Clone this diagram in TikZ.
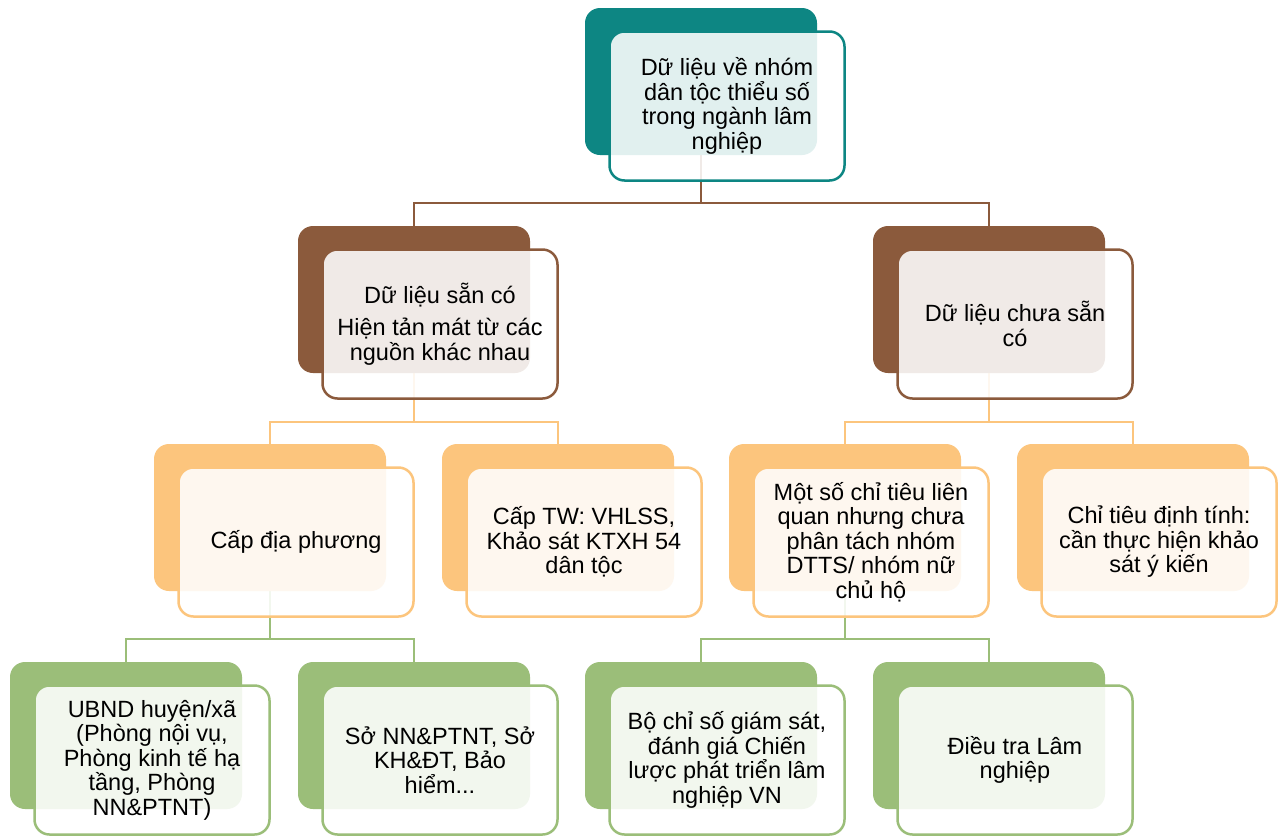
\documentclass[tikz,border=0pt]{standalone}
\usepackage{fontspec}
\setmainfont{Liberation Sans}
\definecolor{cteal}{RGB}{13,134,131}
\definecolor{cbrown}{RGB}{139,90,60}
\definecolor{corange}{RGB}{252,197,125}
\definecolor{cgreen}{RGB}{155,190,121}
\pgfdeclarelayer{bg}
\pgfsetlayers{bg,main}
\newcommand\twobox[5]{%
  \node[backbox=#4] (#1b) at (#2+116,#3+73.5) {};
  \node[frontbox=#4] (#1) at (#2+142,#3+98) {#5};
}
\begin{document}
\begin{tikzpicture}[x=1pt,y=-1pt,
  backbox/.style={rectangle, rounded corners=15pt, minimum width=232pt, minimum height=147pt, inner sep=0pt, fill=#1},
  frontbox/.style={rectangle, rounded corners=15pt, minimum width=235pt, minimum height=149pt, inner sep=0pt, draw=#1, line width=2.5pt, fill=white, fill opacity=0.88, text opacity=1, align=center, font=\fontsize{23.5}{24.5}\selectfont, text=black},
  conn/.style={draw=#1, line width=2.5pt}]
\useasboundingbox (0,0) rectangle (1280,836);
% boxes
\twobox{top}{585}{8}{cteal}{Dữ liệu về nhóm\\dân tộc thiểu số\\trong ngành lâm\\nghiệp}
\twobox{avail}{298}{226}{cbrown}{Dữ liệu sẵn có\\[8pt]Hiện tản mát từ các\\nguồn khác nhau}
\twobox{notavail}{873}{226}{cbrown}{Dữ liệu chưa sẵn\\có}
\twobox{local}{154}{444}{corange}{Cấp địa phương}
\twobox{central}{442}{444}{corange}{Cấp TW: VHLSS,\\Khảo sát KTXH 54\\dân tộc}
\twobox{indic}{729}{444}{corange}{Một số chỉ tiêu liên\\quan nhưng chưa\\phân tách nhóm\\DTTS/ nhóm nữ\\chủ hộ}
\twobox{qual}{1017}{444}{corange}{Chỉ tiêu định tính:\\cần thực hiện khảo\\sát ý kiến}
\twobox{ubnd}{10}{662}{cgreen}{UBND huyện/xã\\(Phòng nội vụ,\\Phòng kinh tế hạ\\tầng, Phòng\\NN\&PTNT)}
\twobox{so}{298}{662}{cgreen}{Sở NN\&PTNT, Sở\\KH\&ĐT, Bảo\\hiểm...}
\twobox{bochiso}{585}{662}{cgreen}{Bộ chỉ số giám sát,\\đánh giá Chiến\\lược phát triển lâm\\nghiệp VN}
\twobox{dieutra}{873}{662}{cgreen}{Điều tra Lâm\\nghiệp}
% connector levels
\coordinate (m1) at (0,203);
\coordinate (m2) at (0,422);
\coordinate (m3) at (0,639);
\begin{pgfonlayer}{bg}
\fill[white] (0,0) rectangle (1280,836);
\draw[conn=cbrown] (topb.south) -- (topb.south |- m1) -| (availb.north);
\draw[conn=cbrown] (topb.south) -- (topb.south |- m1) -| (notavailb.north);
\draw[conn=corange] (availb.south) -- (availb.south |- m2) -| (localb.north);
\draw[conn=corange] (availb.south) -- (availb.south |- m2) -| (centralb.north);
\draw[conn=corange] (notavailb.south) -- (notavailb.south |- m2) -| (indicb.north);
\draw[conn=corange] (notavailb.south) -- (notavailb.south |- m2) -| (qualb.north);
\draw[conn=cgreen] (localb.south) -- (localb.south |- m3) -| (ubndb.north);
\draw[conn=cgreen] (localb.south) -- (localb.south |- m3) -| (sob.north);
\draw[conn=cgreen] (indicb.south) -- (indicb.south |- m3) -| (bochisob.north);
\draw[conn=cgreen] (indicb.south) -- (indicb.south |- m3) -| (dieutrab.north);
\end{pgfonlayer}
\end{tikzpicture}
\end{document}
